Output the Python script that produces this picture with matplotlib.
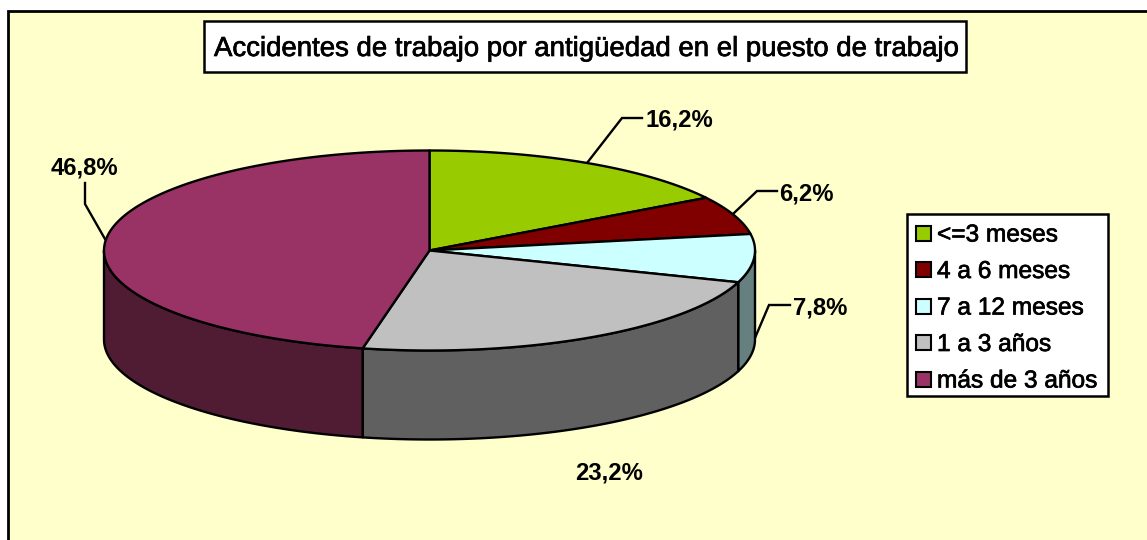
import numpy as np
import matplotlib
matplotlib.use("Agg")
import matplotlib.pyplot as plt
from matplotlib.patches import Polygon, Rectangle
import matplotlib.patheffects as pe

title = "Accidentes de trabajo por antigüedad en el puesto de trabajo"
categories = ["<=3 meses", "4 a 6 meses", "7 a 12 meses", "1 a 3 años", "más de 3 años"]
values = [16.2, 6.2, 7.8, 23.2, 46.8]
value_labels = ["16,2%", "6,2%", "7,8%", "23,2%", "46,8%"]
top_colors = ["#99CC00", "#800000", "#CCFFFF", "#C0C0C0", "#993366"]
side_colors = ["#5C7A00", "#4D0000", "#668080", "#606060", "#4F1C33"]

W, H = 1147, 540
fig = plt.figure(figsize=(W / 100, H / 100), dpi=100, facecolor="white")
ax = fig.add_axes([0, 0, 1, 1])
ax.set_xlim(0, W)
ax.set_ylim(H, 0)
ax.axis("off")
plt.rcParams["font.family"] = ["Liberation Sans", "DejaVu Sans"]
LW = 1.7

# chart area
ax.add_patch(Rectangle((8, 11), W + 20, H + 20, fc="#FFFFCC", ec="black", lw=2, zorder=0))

# title
ax.add_patch(Rectangle((204, 21), 762, 51, fc="white", ec="black", lw=1.8, zorder=5))
ax.text(585, 49, title, ha="center", va="center", fontsize=19.85, color="black", zorder=6,
        path_effects=[pe.withStroke(linewidth=0.5, foreground="black")])

# pie geometry
cx, cy, rx, ry, depth = 429.5, 250.5, 325.5, 100, 89


def rim(t_deg, dy=0.0):
    t = np.radians(t_deg)
    return np.column_stack([cx + rx * np.sin(t), cy + dy - ry * np.cos(t)])


edges = np.concatenate([[0], np.cumsum(values) / np.sum(values) * 360])

# side faces (front half only, angles 90..270 measured clockwise from the top)
for a, b, col in zip(edges[:-1], edges[1:], side_colors):
    lo, hi = max(a, 90), min(b, 270)
    if lo >= hi:
        continue
    t = np.linspace(lo, hi, 120)
    pts = np.vstack([rim(t), rim(t[::-1], depth)])
    ax.add_patch(Polygon(pts, closed=True, fc=col, ec="black", lw=LW, joinstyle="round", zorder=2))

# top faces
for a, b, col in zip(edges[:-1], edges[1:], top_colors):
    t = np.linspace(a, b, 200)
    pts = np.vstack([[cx, cy], rim(t)])
    ax.add_patch(Polygon(pts, closed=True, fc=col, ec="black", lw=LW, joinstyle="round", zorder=3))

# value labels and leader lines
label_pos = [(679, 120), (806.5, 193.5), (820, 307.5), (609, 473), (84.5, 168)]
leaders = [
    [(587, 163), (622, 118), (642, 118)],
    [(733, 214), (757, 191), (777, 191)],
    [(752, 345), (769, 305), (790, 305)],
    None,
    [(105, 239), (85, 204), (85, 183)],
]
for txt, p, ld in zip(value_labels, label_pos, leaders):
    ax.text(p[0], p[1], txt, ha="center", va="center", fontsize=17.2, fontweight="bold",
            color="black", zorder=6)
    if ld:
        xs, ys = zip(*ld)
        ax.plot(xs, ys, color="black", lw=1.7, zorder=1.5, solid_joinstyle="miter")

# legend
ax.add_patch(Rectangle((907, 214), 201, 182, fc="white", ec="black", lw=1.8, zorder=5))
row_y = 233 + 36.5 * np.arange(len(categories))
for y, name, col in zip(row_y, categories, top_colors):
    ax.add_patch(Rectangle((916, y - 7.5), 15, 15, fc=col, ec="black", lw=1.5, zorder=6))
    ax.text(937, y + 2.5, name, ha="left", va="center", fontsize=17.6, color="black", zorder=6,
            path_effects=[pe.withStroke(linewidth=0.5, foreground="black")])

fig.savefig("out.png", dpi=100, facecolor=fig.get_facecolor())
